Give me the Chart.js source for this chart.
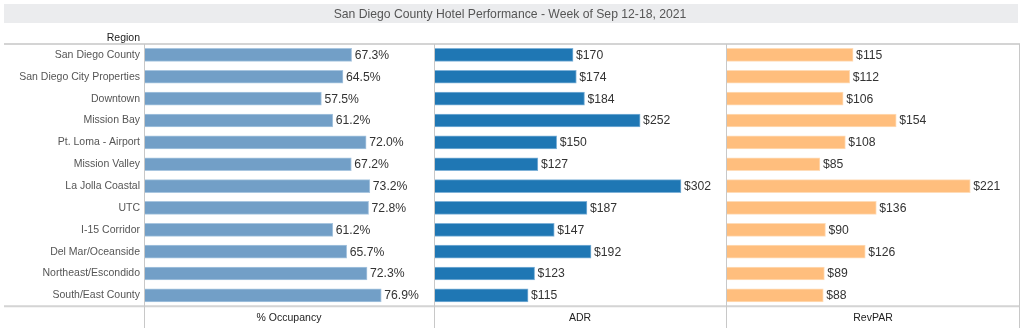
<!DOCTYPE html>
<html>
<head>
<meta charset="utf-8">
<script src="https://cdn.jsdelivr.net/npm/chart.js@4/dist/chart.umd.min.js"></script>
<style>
  html, body { margin: 0; padding: 0; background: #ffffff; }
  #wrap { position: relative; width: 1024px; height: 331px; }
</style>
</head>
<body>
<div id="wrap"><canvas id="c" width="1024" height="331"></canvas></div>
<script>
const chartTitle = 'San Diego County Hotel Performance - Week of Sep 12-18, 2021';
const regionHeader = 'Region';
const regions = ['San Diego County', 'San Diego City Properties', 'Downtown', 'Mission Bay',
  'Pt. Loma - Airport', 'Mission Valley', 'La Jolla Coastal', 'UTC', 'I-15 Corridor',
  'Del Mar/Oceanside', 'Northeast/Escondido', 'South/East County'];
const measureNames = ['% Occupancy', 'ADR', 'RevPAR'];
const occupancy = [67.3, 64.5, 57.5, 61.2, 72.0, 67.2, 73.2, 72.8, 61.2, 65.7, 72.3, 76.9];
const adr = [170, 174, 184, 252, 150, 127, 302, 187, 147, 192, 123, 115];
const revpar = [115, 112, 106, 154, 108, 85, 221, 136, 90, 126, 89, 88];

const FONT = "'Liberation Sans', Arial, sans-serif";
const fmt = [v => v.toFixed(1) + '%', v => '$' + v, v => '$' + v];

const framePlugin = {
  id: 'frame',
  beforeDraw(chart) {
    const ctx = chart.ctx;
    ctx.save();
    ctx.fillStyle = '#ebecee';
    ctx.fillRect(4, 4, 1014, 19);
    ctx.restore();
  },
  afterDatasetsDraw(chart) {
    const ctx = chart.ctx;
    const a = chart.chartArea;
    ctx.save();
    // value labels
    ctx.font = '12.2px ' + FONT;
    ctx.fillStyle = '#333333';
    ctx.textAlign = 'left';
    ctx.textBaseline = 'middle';
    chart.data.datasets.forEach((ds, di) => {
      const meta = chart.getDatasetMeta(di);
      meta.data.forEach((bar, i) => {
        ctx.fillText(fmt[di](ds.data[i]), bar.x + 3, bar.y + 0.5);
      });
    });
    // frame lines
    ctx.strokeStyle = '#d4d4d4';
    ctx.lineWidth = 2;
    ctx.beginPath();
    ctx.moveTo(4, a.top); ctx.lineTo(a.right, a.top);
    ctx.moveTo(4, a.bottom); ctx.lineTo(a.right, a.bottom);
    ctx.stroke();
    ctx.strokeStyle = '#c8c8c8';
    ctx.lineWidth = 1;
    ctx.beginPath();
    ['x1', 'x2', 'x3'].forEach(id => {
      const s = chart.scales[id];
      const x = Math.round(s.left) + 0.5;
      ctx.moveTo(x, a.top); ctx.lineTo(x, 328);
    });
    const rx = Math.round(a.right) - 0.5;
    ctx.moveTo(rx, a.top); ctx.lineTo(rx, 328);
    ctx.stroke();
    // header
    ctx.font = '10.5px ' + FONT;
    ctx.fillStyle = '#222222';
    ctx.textAlign = 'right';
    ctx.fillText(regionHeader, a.left - 4, 38);
    ctx.restore();
  }
};

function xAxis(title, max, weight) {
  return {
    type: 'linear',
    position: 'bottom',
    stack: 'panels',
    stackWeight: weight,
    min: 0,
    max: max,
    ticks: { display: false },
    grid: { display: false, drawTicks: false },
    border: { display: false },
    title: {
      display: true,
      text: title,
      color: '#222222',
      font: { family: FONT, size: 10.5 },
      padding: { top: 6, bottom: 4.3 }
    }
  };
}

const barCommon = { grouped: false, barThickness: 13, borderWidth: 1, borderSkipped: 'start' };

new Chart(document.getElementById('c'), {
  type: 'bar',
  data: {
    labels: regions,
    datasets: [
      Object.assign({ label: measureNames[0], data: occupancy, xAxisID: 'x1',
        backgroundColor: '#729fc7', borderColor: '#a9c6e0' }, barCommon),
      Object.assign({ label: measureNames[1], data: adr, xAxisID: 'x2',
        backgroundColor: '#1f77b4', borderColor: '#7fb2d8' }, barCommon),
      Object.assign({ label: measureNames[2], data: revpar, xAxisID: 'x3',
        backgroundColor: '#ffbe7d', borderColor: '#ffdcb8' }, barCommon)
    ]
  },
  options: {
    indexAxis: 'y',
    responsive: false,
    animation: false,
    events: [],
    layout: { padding: { left: 0, right: 4, top: 0, bottom: 1.8 } },
    plugins: {
      legend: { display: false },
      tooltip: { enabled: false },
      title: {
        display: true,
        text: chartTitle,
        color: '#555555',
        font: { family: FONT, size: 12.2, weight: 'normal' },
        padding: { top: 7, bottom: 22.36 }
      }
    },
    scales: {
      y: {
        type: 'category',
        position: 'left',
        grid: { display: false, drawTicks: false },
        border: { display: false },
        ticks: { color: '#555555', font: { family: FONT, size: 10.5 }, padding: 4 },
        afterFit(scale) { scale.width = 144; }
      },
      x1: xAxis(measureNames[0], 94, 290),
      x2: xAxis(measureNames[1], 357, 292),
      x3: xAxis(measureNames[2], 266, 294)
    }
  },
  plugins: [framePlugin]
});
</script>
</body>
</html>
